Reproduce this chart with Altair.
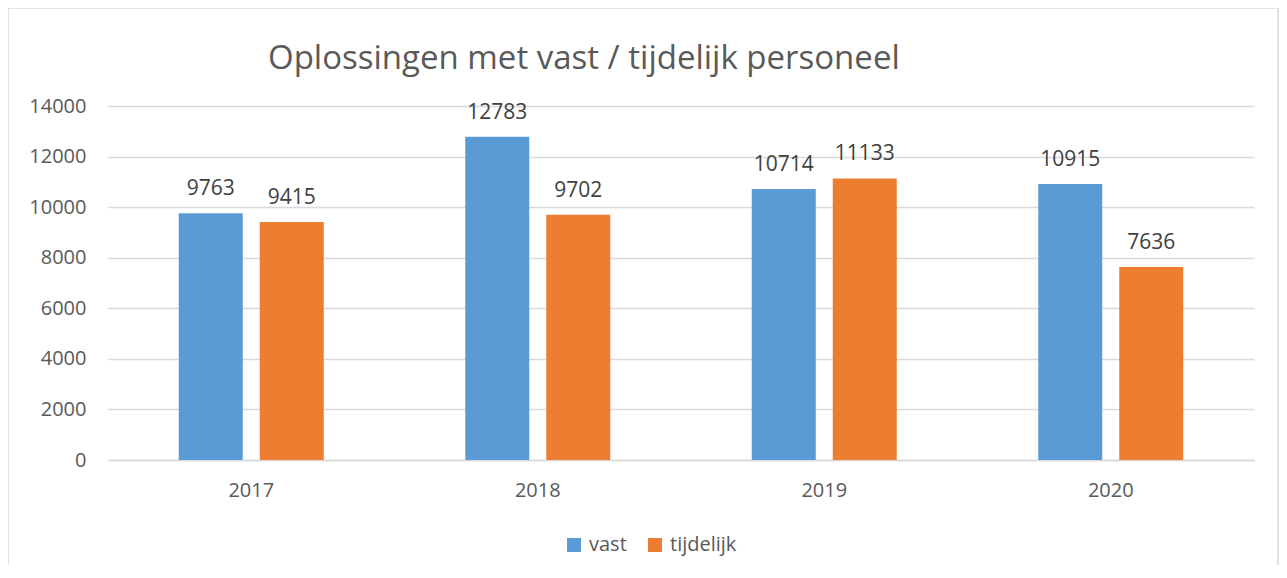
import altair as alt
import pandas as pd

years = ["2017", "2018", "2019", "2020"]
series = ["vast", "tijdelijk"]
vast = [9763, 12783, 10714, 10915]
tijdelijk = [9415, 9702, 11133, 7636]
y_ticks = [0, 2000, 4000, 6000, 8000, 10000, 12000, 14000]
colors = ["#5B9BD5", "#ED7D31"]
title_text = "Oplossingen met vast / tijdelijk personeel"

rows = []
for i, yr in enumerate(years):
    rows.append({"jaar": yr, "serie": "vast", "waarde": vast[i]})
    rows.append({"jaar": yr, "serie": "tijdelijk", "waarde": tijdelijk[i]})
df = pd.DataFrame(rows)

FONT = "Open Sans"
GRID = "#D9D9D9"

x = alt.X(
    "jaar:N", sort=years, title=None,
    scale=alt.Scale(paddingInner=0.494, paddingOuter=0.247),
    axis=alt.Axis(labelAngle=0, labelFontSize=20, labelFont=FONT, labelColor="#595959",
                  labelPadding=20, domainColor=GRID, domainWidth=1.5, ticks=False, grid=False),
)
xo = alt.XOffset("serie:N", sort=series, scale=alt.Scale(paddingInner=0.21, paddingOuter=0))
y = alt.Y(
    "waarde:Q", title=None,
    scale=alt.Scale(domain=[0, 14000], nice=False),
    axis=alt.Axis(values=y_ticks, format="d", labelFontSize=20, labelFont=FONT, labelColor="#595959",
                  labelPadding=22, domain=False, ticks=False, grid=True, gridColor=GRID,
                  gridWidth=1.5),
)
color = alt.Color(
    "serie:N", sort=series,
    scale=alt.Scale(domain=series, range=colors),
    legend=alt.Legend(title=None, orient="none", legendX=456, legendY=429, direction="horizontal",
                      symbolType="square", symbolSize=196, symbolStrokeWidth=0,
                      labelFontSize=20, labelFont=FONT, labelColor="#595959",
                      labelOffset=5, columnPadding=18, padding=0),
)

bars = alt.Chart(df).mark_bar().encode(x=x, xOffset=xo, y=y, color=color)
labels = alt.Chart(df).mark_text(
    baseline="alphabetic", dy=-18, fontSize=21, font=FONT, color="#404040"
).encode(x=x, xOffset=xo, y=y, text=alt.Text("waarde:Q", format="d"))

border = alt.Chart(pd.DataFrame({"a": [0]})).mark_rect(
    fill="transparent", stroke=GRID, strokeWidth=1.5
).encode(x=alt.value(-100), x2=alt.value(1170), y=alt.value(-98), y2=alt.value(480))

title = alt.Chart(pd.DataFrame({"t": [title_text]})).mark_text(
    align="left", baseline="alphabetic", fontSize=33, font=FONT, color="#595959"
).encode(x=alt.value(160), y=alt.value(-37), text="t:N")

chart = alt.layer(border, bars, labels, title).properties(
    width=1146, height=354,
    autosize=alt.AutoSizeParams(type="none"),
    padding={"left": 100, "top": 98, "right": 25, "bottom": 105},
).configure_view(stroke=None)

chart.save("out.html", embed_options={"renderer": "svg", "actions": False})
